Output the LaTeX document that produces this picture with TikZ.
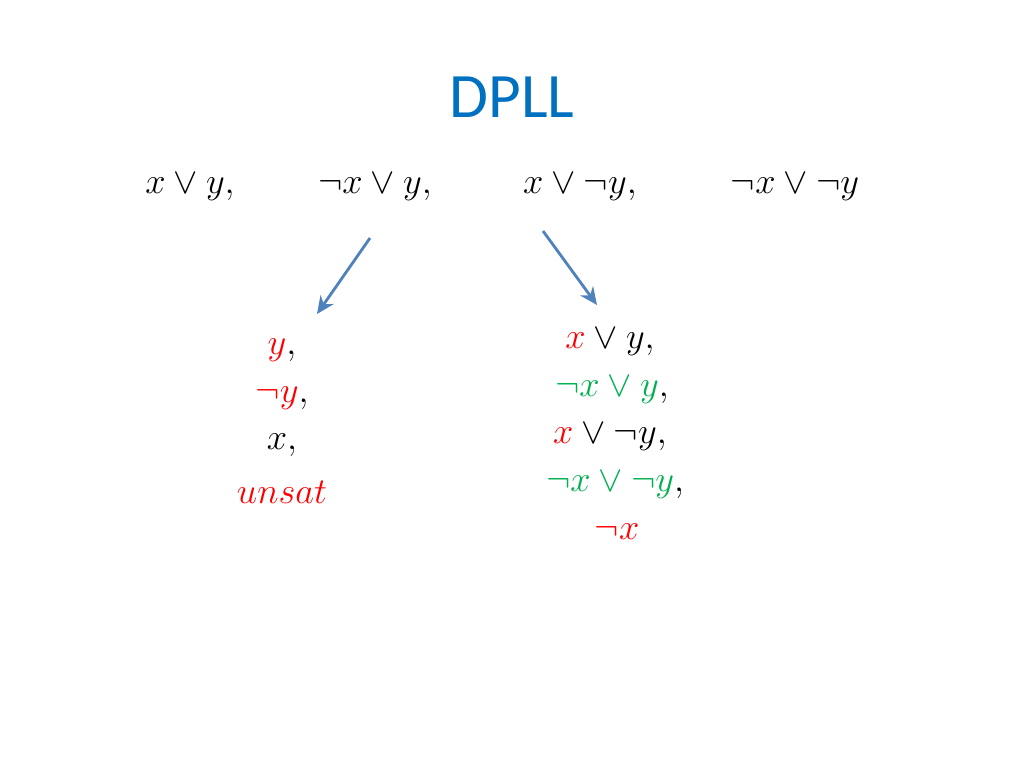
\documentclass[tikz,border=0pt]{standalone}
\usepackage{fontspec}
\newfontfamily\titlefont{Carlito}
\usetikzlibrary{arrows.meta}
\definecolor{tblue}{RGB}{0,112,192}
\definecolor{ablue}{RGB}{79,129,189}
\definecolor{gr}{RGB}{0,176,80}
\definecolor{rd}{RGB}{255,0,0}
\begin{document}
\begin{tikzpicture}[x=0.02cm,y=-0.02cm,
  m/.style={inner sep=0pt,font=\fontsize{20.5}{24}\selectfont},
  arr/.style={draw=ablue,line width=1.6pt,-{Stealth[length=10pt,width=9pt]}}]
\useasboundingbox (0,0) rectangle (1024,768);
\node[inner sep=0pt,text=tblue,font=\titlefont\fontsize{36}{42}\selectfont] (t) at (512,97) {DPLL};
\node[m] (c1) at (190,187) {$x\vee y,$};
\node[m] (c2) at (375,187) {$\neg x\vee y,$};
\node[m] (c3) at (580,187) {$x\vee \neg y,$};
\node[m] (c4) at (795,187) {$\neg x\vee \neg y$};
\coordinate (a1s) at (370,238); \coordinate (a1e) at (317,314);
\coordinate (a2s) at (543,231); \coordinate (a2e) at (597,305);
\draw[arr] (a1s) -- (a1e);
\draw[arr] (a2s) -- (a2e);
\node[m] (l1) at (282,350) {$\textcolor{rd}{y},$};
\node[m] (l2) at (282,398) {$\textcolor{rd}{\neg y},$};
\node[m] (l3) at (282,445) {$x,$};
\node[m] (l4) at (282,492) {$\textcolor{rd}{unsat}$};
\node[m] (r1) at (610,342) {$\textcolor{rd}{x}\vee y,$};
\node[m] (r2) at (612,390) {$\textcolor{gr}{\neg x\vee y},$};
\node[m] (r3) at (610,437) {$\textcolor{rd}{x}\vee \neg y,$};
\node[m] (r4) at (615,485) {$\textcolor{gr}{\neg x\vee \neg y},$};
\node[m] (r5) at (617,532) {$\textcolor{rd}{\neg x}$};
\end{tikzpicture}
\end{document}
